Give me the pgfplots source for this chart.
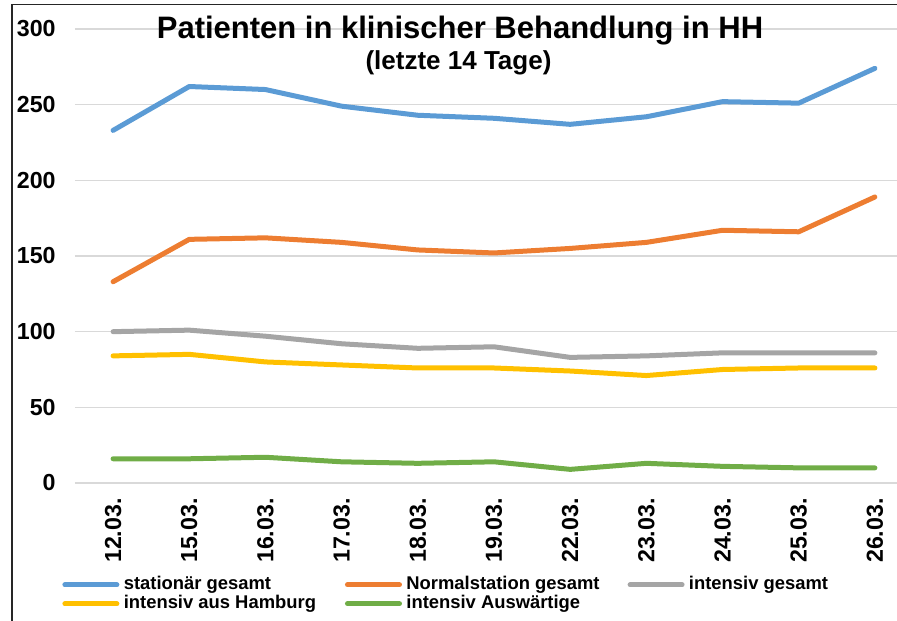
\documentclass[border=0pt]{standalone}
\usepackage{fontspec}
\setmainfont{Liberation Sans}
\usepackage{pgfplots}
\pgfplotsset{compat=1.18}
\definecolor{cBlue}{HTML}{5B9BD5}
\definecolor{cOrange}{HTML}{ED7D31}
\definecolor{cGray}{HTML}{A5A5A5}
\definecolor{cYellow}{HTML}{FFC000}
\definecolor{cGreen}{HTML}{70AD47}
\definecolor{gridgray}{HTML}{D9D9D9}
\begin{document}
\begin{tikzpicture}
\begin{axis}[
  scale only axis, width=411pt, height=227pt,
  xmin=-0.5, xmax=10.29, ymin=0, ymax=300,
  ytick={0,50,...,300},
  xtick={0,...,10},
  xticklabels={12.03.,15.03.,16.03.,17.03.,18.03.,19.03.,22.03.,23.03.,24.03.,25.03.,26.03.},
  ymajorgrids, grid style={draw=gridgray, line width=0.6pt},
  axis line style={draw=none},
  major tick length=0pt,
  tick label style={font=\fontsize{11.6}{13}\selectfont\bfseries},
  /pgf/number format/assume math mode=true,
  yticklabel style={anchor=east, inner sep=0pt},
  yticklabel shift=9.5pt,
  xticklabel style={rotate=90, anchor=east, inner sep=0pt},
  xticklabel shift=7.5pt,
  clip=false,
  legend columns=3,
  legend cell align=left,
  legend style={at={(axis description cs:0,0)}, anchor=north west, xshift=-6.5pt, yshift=-46.5pt,
    draw=none, fill=none, inner sep=0pt, font=\fontsize{9.2}{11}\selectfont\bfseries,
    nodes={inner sep=0pt, text height=6.5pt, text depth=2pt},
    /tikz/every odd column/.append style={column sep=2.2pt}, row sep=1pt},
  legend image code/.code={\draw[#1, line width=2.5pt, line cap=round] (0.5pt,0pt) -- (26.5pt,0pt);},
  every axis plot/.append style={line width=2.5pt, line join=round, line cap=round},
]
\addplot[cBlue] coordinates {(0,233) (1,262) (2,260) (3,249) (4,243) (5,241) (6,237) (7,242) (8,252) (9,251) (10,274)};
\addlegendentry{\makebox[110.6pt][l]{stationär gesamt}}
\addplot[cOrange] coordinates {(0,133) (1,161) (2,162) (3,159) (4,154) (5,152) (6,155) (7,159) (8,167) (9,166) (10,189)};
\addlegendentry{\makebox[110.6pt][l]{Normalstation gesamt}}
\addplot[cGray] coordinates {(0,100) (1,101) (2,97) (3,92) (4,89) (5,90) (6,83) (7,84) (8,86) (9,86) (10,86)};
\addlegendentry{\makebox[110.6pt][l]{intensiv gesamt}}
\addplot[cYellow] coordinates {(0,84) (1,85) (2,80) (3,78) (4,76) (5,76) (6,74) (7,71) (8,75) (9,76) (10,76)};
\addlegendentry{\makebox[110.6pt][l]{intensiv aus Hamburg}}
\addplot[cGreen] coordinates {(0,16) (1,16) (2,17) (3,14) (4,13) (5,14) (6,9) (7,13) (8,11) (9,10) (10,10)};
\addlegendentry{\makebox[110.6pt][l]{intensiv Auswärtige}}
\coordinate (sw) at (rel axis cs:0,0);
\coordinate (ne) at (rel axis cs:1,1);
\end{axis}
\node[anchor=base, font=\fontsize{15.5}{18}\selectfont\bfseries] at ([shift={(192.5pt,222pt)}]sw) {Patienten in klinischer Behandlung in HH};
\node[anchor=base, font=\fontsize{13}{15}\selectfont\bfseries] at ([shift={(191.75pt,206.5pt)}]sw) {(letzte 14 Tage)};
\draw[line width=0.6pt, black!85] ([shift={(-31.5pt,-80pt)}]sw) -- ([shift={(-31.5pt,239.25pt)}]sw) -- ([shift={(420pt,239.25pt)}]sw);
\pgfresetboundingbox
\path[use as bounding box] ([shift={(-37.5pt,-69pt)}]sw) rectangle ([shift={(0pt,14.5pt)}]ne);
\end{tikzpicture}
\end{document}
